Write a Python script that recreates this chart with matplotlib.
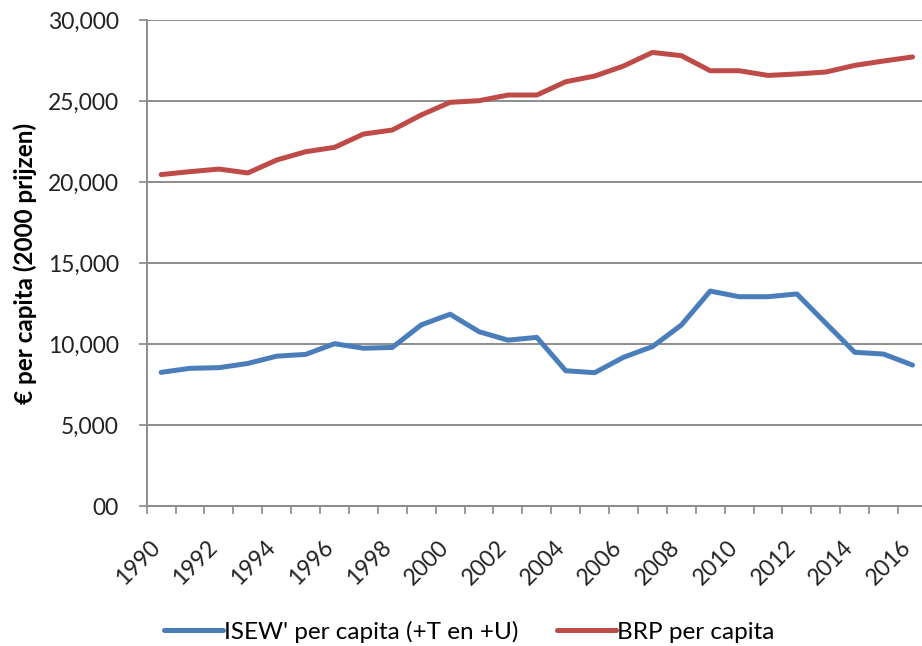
import numpy as np
import matplotlib
matplotlib.use('Agg')
import matplotlib.pyplot as plt
import matplotlib.transforms as mtransforms

# Data
jaren = list(range(1990, 2017))
isew = [8250, 8500, 8540, 8800, 9250, 9360, 10020, 9740, 9790, 11180, 11840,
        10760, 10240, 10410, 8350, 8230, 9180, 9840, 11170, 13270, 12920,
        12920, 13090, 11280, 9490, 9380, 8700]
brp = [20460, 20640, 20800, 20560, 21360, 21870, 22140, 22960, 23210, 24140,
       24920, 25020, 25370, 25370, 26190, 26540, 27160, 28000, 27800, 26870,
       26870, 26580, 26670, 26790, 27200, 27470, 27720]
y_ticks = [0, 5000, 10000, 15000, 20000, 25000, 30000]
y_labels = ['00', '5,000', '10,000', '15,000', '20,000', '25,000', '30,000']
x_labels = [str(j) for j in range(1990, 2017, 2)]

plt.rcParams['font.family'] = ['Lato', 'DejaVu Sans']

fig = plt.figure(figsize=(9.22, 6.46), dpi=100)
ax = fig.add_axes([0.1591, 0.2167, 0.8463, 0.7523])

ax.plot(jaren, isew, color='#4A7EBB', linewidth=3.6, solid_capstyle='round',
        label="ISEW' per capita (+T en +U)")
ax.plot(jaren, brp, color='#BE4B48', linewidth=3.6, solid_capstyle='round',
        label='BRP per capita')

ax.set_xlim(1989.5, 2016.5)
ax.set_ylim(0, 30000)

# y-as
ax.set_yticks(y_ticks)
ax.set_yticklabels(y_labels, fontsize=16.5, color='#222222')
ax.tick_params(axis='y', length=6, width=1.2, color='#888888', pad=14)
ax.grid(axis='y', color='#8c8c8c', linewidth=1.4)
ax.set_axisbelow(True)
ax.set_ylabel('€ per capita (2000 prijzen)', fontsize=17.5, fontweight='bold',
              labelpad=8)

# x-as: streepjes tussen de categorieën, labels om de twee jaar
ax.set_xticks(np.arange(1989.5, 2017, 1), minor=True)
ax.set_xticks(range(1990, 2017, 2))
ax.set_xticklabels(x_labels, fontsize=16.5, rotation=45, ha='right',
                   rotation_mode='anchor', color='#222222')
ax.tick_params(axis='x', which='major', length=0, pad=22)
ax.tick_params(axis='x', which='minor', length=6, width=1.2, color='#888888')
offset = mtransforms.ScaledTranslation(-12 / 100, 0, fig.dpi_scale_trans)
for lbl in ax.get_xticklabels():
    lbl.set_transform(lbl.get_transform() + offset)

for s in ['top', 'right']:
    ax.spines[s].set_visible(False)
for s in ['left', 'bottom']:
    ax.spines[s].set_color('#8c8c8c')
    ax.spines[s].set_linewidth(1.4)

fig.legend(loc='center', bbox_to_anchor=(0.509, 0.022), ncol=2, frameon=False,
           fontsize=17.5, handlelength=2.4, handletextpad=0.05, columnspacing=1.6)

plt.savefig('out.png', dpi=100)
plt.close()
